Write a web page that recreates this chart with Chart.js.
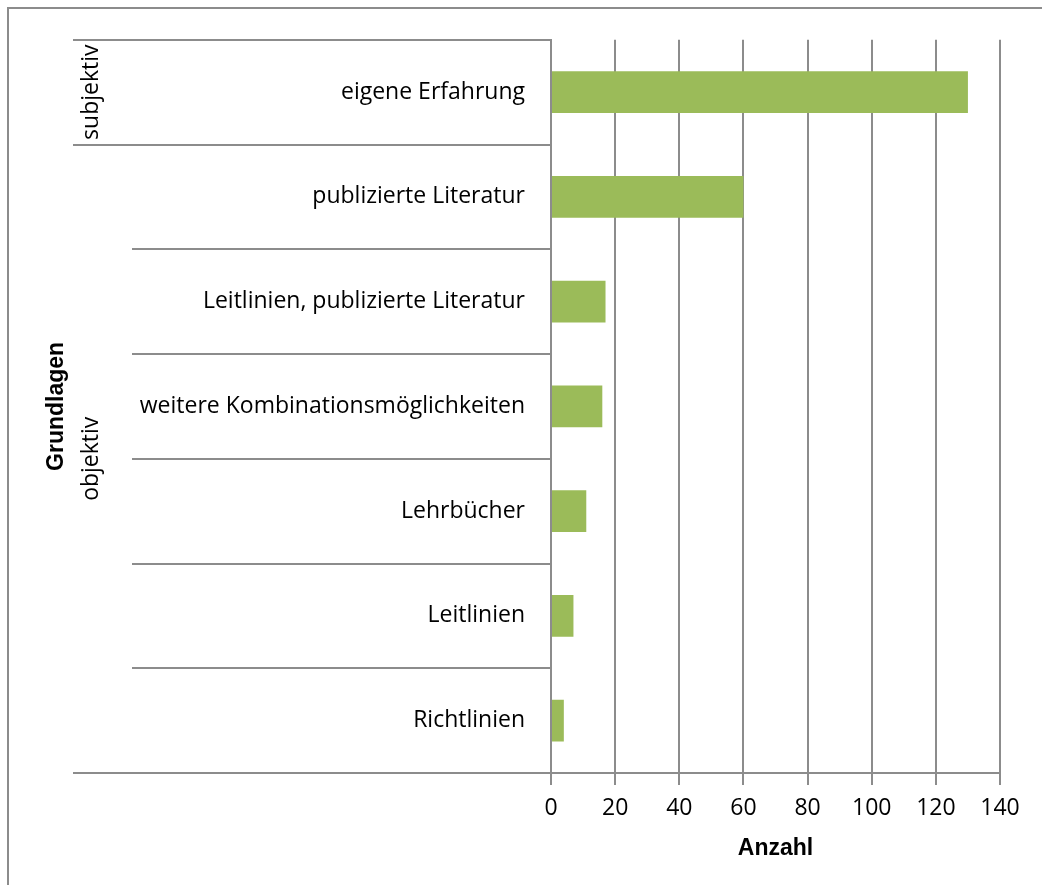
<!DOCTYPE html>
<html>
<head>
<meta charset="utf-8">
<script src="https://cdn.jsdelivr.net/npm/chart.js"></script>
<style>
  html, body { margin: 0; padding: 0; background: #fff; }
</style>
</head>
<body>
<canvas id="myChart" width="1042" height="885"></canvas>
<script>
const categories = [
  'eigene Erfahrung',
  'publizierte Literatur',
  'Leitlinien, publizierte Literatur',
  'weitere Kombinationsmöglichkeiten',
  'Lehrbücher',
  'Leitlinien',
  'Richtlinien'
];
const counts = [130, 60, 17, 16, 11, 7, 4];
const groupNames = ['subjektiv', 'objektiv'];
const groupSizes = [1, 6];
const xMin = 0, xMax = 140, xStep = 20;

const lineGrey = '#8c8c8c';
const labelFont = { family: "'Open Sans', sans-serif", size: 23 };
const titleFont = { family: "'Liberation Sans', Arial, sans-serif", size: 23, weight: 'bold' };

// frame + multi-level category separators left of the axis
const groupLines = {
  id: 'groupLines',
  beforeDraw(chart) {
    const ctx = chart.ctx;
    ctx.save();
    ctx.strokeStyle = lineGrey;
    ctx.lineWidth = 2;
    ctx.strokeRect(8, 8, chart.width, chart.height);
    ctx.restore();
  },
  afterDraw(chart) {
    const { ctx, chartArea, scales: { y } } = chart;
    const step = y.getPixelForValue(1) - y.getPixelForValue(0);
    const edge = i => y.getPixelForValue(i) - step / 2;

    const groupEdges = [0];
    groupSizes.forEach(n => groupEdges.push(groupEdges[groupEdges.length - 1] + n));

    ctx.save();
    ctx.strokeStyle = lineGrey;
    ctx.lineWidth = 2;
    for (let i = 0; i <= categories.length; i++) {
      const yy = Math.round(edge(i));
      const x0 = groupEdges.includes(i) ? 73 : 132;
      ctx.beginPath();
      ctx.moveTo(x0, yy);
      ctx.lineTo(chartArea.left, yy);
      ctx.stroke();
    }

    ctx.fillStyle = '#000';
    ctx.font = labelFont.size + 'px ' + labelFont.family;
    ctx.textAlign = 'center';
    ctx.textBaseline = 'middle';
    groupNames.forEach((name, g) => {
      const mid = (edge(groupEdges[g]) + edge(groupEdges[g + 1])) / 2;
      ctx.save();
      ctx.translate(91, mid);
      ctx.rotate(-Math.PI / 2);
      ctx.fillText(name, 0, 0);
      ctx.restore();
    });
    ctx.restore();
  }
};

new Chart(document.getElementById('myChart').getContext('2d'), {
  type: 'bar',
  data: {
    labels: categories,
    datasets: [{
      label: 'Anzahl',
      data: counts,
      backgroundColor: '#9bbb59',
      borderWidth: 0,
      barPercentage: 0.4,
      categoryPercentage: 1
    }]
  },
  options: {
    indexAxis: 'y',
    responsive: false,
    animation: false,
    devicePixelRatio: 1,
    layout: { padding: { left: 20, top: 38, right: 42, bottom: 0 } },
    plugins: {
      legend: { display: false },
      tooltip: { enabled: false }
    },
    scales: {
      x: {
        type: 'linear',
        min: xMin,
        max: xMax,
        ticks: { stepSize: xStep, color: '#000', font: labelFont, padding: 10 },
        grid: { color: lineGrey, lineWidth: 2, tickLength: 12 },
        border: { color: lineGrey, width: 2 },
        title: { display: true, text: 'Anzahl', color: '#000', font: titleFont, padding: { bottom: 23 } },
        afterFit: s => { s.height = 112; }
      },
      y: {
        ticks: { color: '#000', font: labelFont, padding: 26 },
        grid: { display: true, drawOnChartArea: false, drawTicks: false },
        border: { color: lineGrey, width: 2 },
        title: { display: true, text: 'Grundlagen', color: '#000', font: titleFont, padding: { top: 23 } },
        afterFit: s => { s.width = 531; }
      }
    }
  },
  plugins: [groupLines]
});
</script>
</body>
</html>
